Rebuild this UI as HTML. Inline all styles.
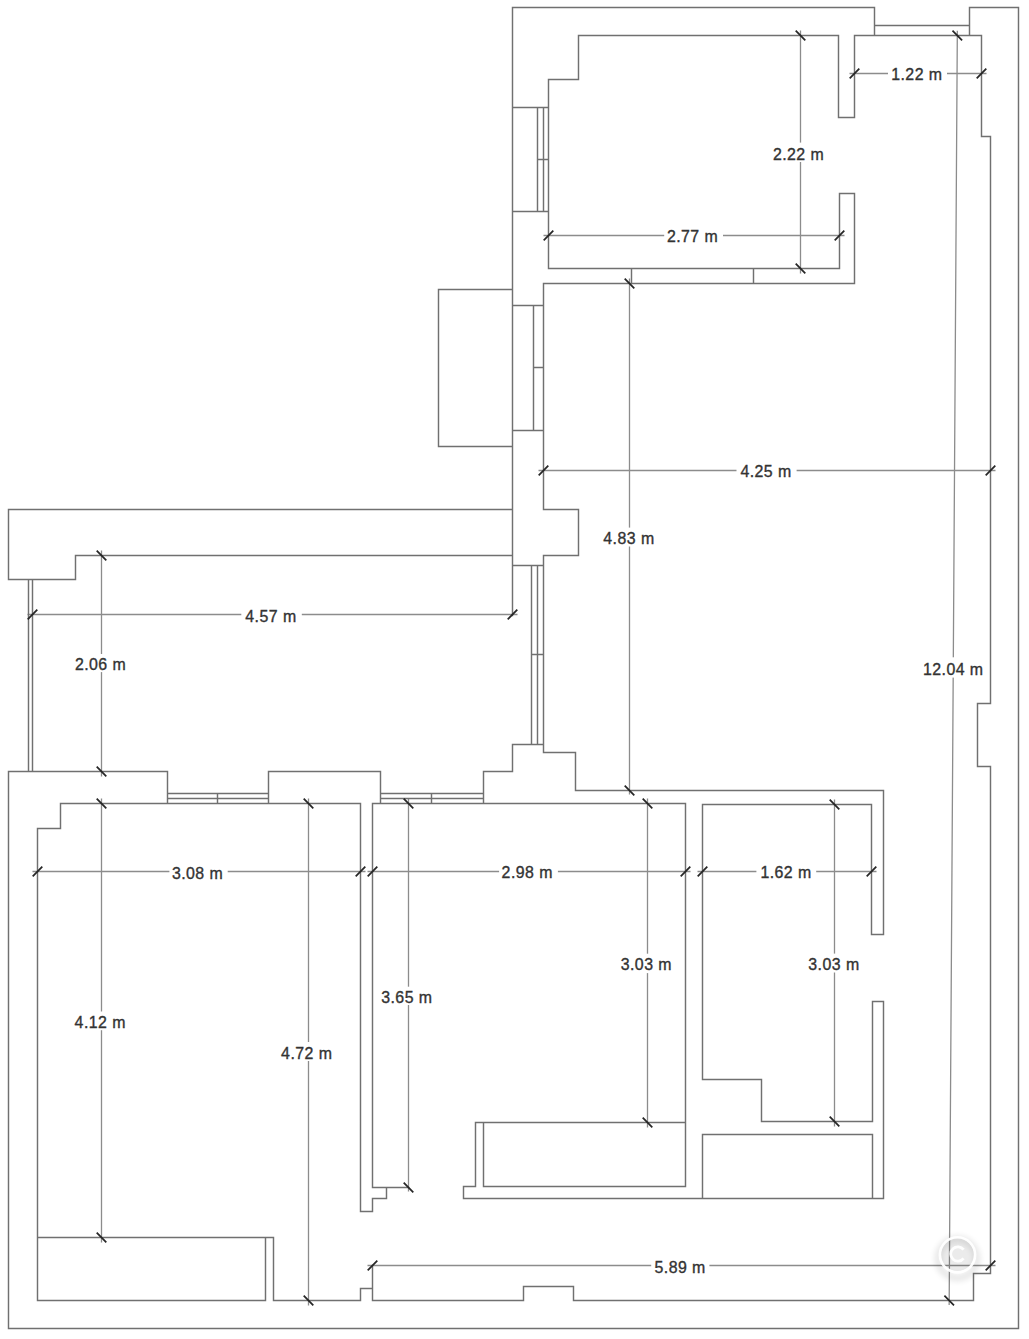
<!DOCTYPE html><html><head><meta charset="utf-8"><style>html,body{margin:0;padding:0;background:#fff;width:1029px;height:1339px;overflow:hidden}svg{display:block}text{font-family:"Liberation Sans",sans-serif;font-size:15.9px;letter-spacing:0.45px;fill:#333333;stroke:#333;stroke-width:0.35px}</style></head><body>
<svg width="1029" height="1339" viewBox="0 0 1029 1339">
<rect width="1029" height="1339" fill="#fff"/>
<path d="M800.5,30.5L800.5,273.5M849.5,73.5L986.5,73.5M543.5,235.5L844.5,235.5M629.5,278.5L629.5,794.5M538.5,470.5L995.5,470.5M957.331,30.8001L949.169,1305M27.5,614.5L517.5,614.5M101.5,550.5L101.5,776.5M32.5,871.5L365.5,871.5M101.5,798.5L101.5,1242.5M308.5,798.5L308.5,1305.5M408.5,798.5L408.5,1191.5M367.5,871.5L690.5,871.5M647.5,798.5L647.5,1127.5M697.5,871.5L876.5,871.5M834.5,799.5L834.5,1126.5M367.5,1265.5L995.5,1265.5" fill="none" stroke="#8c8c8c" stroke-width="1.3"/>
<path d="M512.5,615.5L512.5,7.5L874.5,7.5L874.5,35.5M531.5,654.5L543.5,654.5M874.5,25.5L969.5,25.5M969.5,35.5L969.5,7.5L1018.5,7.5L1018.5,1328.5L8.5,1328.5L8.5,771.5L167.5,771.5L167.5,803.5M548.5,268.5L548.5,79.5L578.5,79.5L578.5,35.5L838.5,35.5L838.5,117.5L854.5,117.5L854.5,35.5L981.5,35.5L981.5,136.5L990.5,136.5L990.5,703.5L977.5,703.5L977.5,766.5L990.5,766.5L990.5,1273.5L973.5,1273.5L973.5,1300.5L573.5,1300.5L573.5,1286.5L523.5,1286.5L523.5,1300.5L372.5,1300.5L372.5,1288.5L360.5,1288.5L360.5,1300.5L273.5,1300.5M265.5,1300.5L37.5,1300.5L37.5,828.5L60.5,828.5L60.5,803.5L360.5,803.5L360.5,1211.5L372.5,1211.5L372.5,1198.5L386.5,1198.5L386.5,1187.5L372.5,1187.5L372.5,803.5L685.5,803.5L685.5,1186.5L483.5,1186.5L483.5,1122.5M386.5,1187.5L408.5,1187.5M37.5,1237.5L273.5,1237.5L273.5,1300.5M372.5,1265.5L372.5,1288.5M265.5,1237.5L265.5,1300.5M463.5,1198.5L463.5,1186.5L475.5,1186.5L475.5,1122.5L685.5,1122.5M463.5,1198.5L883.5,1198.5L883.5,1001.5L872.5,1001.5L872.5,1121.5L761.5,1121.5L761.5,1079.5L702.5,1079.5L702.5,804.5L871.5,804.5L871.5,934.5L883.5,934.5L883.5,790.5L575.5,790.5L575.5,752.5L543.5,752.5L543.5,744.5L512.5,744.5M702.5,1198.5L702.5,1134.5L872.5,1134.5L872.5,1198.5M512.5,107.5L548.5,107.5M512.5,211.5L548.5,211.5M537.5,107.5L537.5,211.5M543.5,107.5L543.5,211.5M537.5,159.5L548.5,159.5M548.5,268.5L839.5,268.5L839.5,193.5L854.5,193.5L854.5,283.5L543.5,283.5L543.5,509.5L578.5,509.5L578.5,555.5L543.5,555.5L543.5,565.5L512.5,565.5M631.5,268.5L631.5,283.5M753.5,268.5L753.5,283.5M512.5,289.5L438.5,289.5L438.5,446.5L512.5,446.5M512.5,305.5L543.5,305.5M512.5,430.5L543.5,430.5M533.5,305.5L533.5,430.5M533.5,367.5L543.5,367.5M512.5,509.5L8.5,509.5L8.5,579.5L75.5,579.5L75.5,555.5L512.5,555.5M28.5,579.5L28.5,771.5M32.5,579.5L32.5,771.5M531.5,565.5L531.5,744.5M537.5,565.5L537.5,744.5M543.5,565.5L543.5,744.5M167.5,793.5L268.5,793.5M167.5,798.5L268.5,798.5M217.5,793.5L217.5,803.5M268.5,803.5L268.5,771.5L380.5,771.5L380.5,803.5M380.5,793.5L483.5,793.5M380.5,798.5L483.5,798.5M431.5,793.5L431.5,803.5M483.5,803.5L483.5,771.5L512.5,771.5L512.5,744.5" fill="none" stroke="#707070" stroke-width="1.45" stroke-linejoin="miter" stroke-linecap="square"/>
<rect x="768.3" y="142.6" width="60" height="19.4" fill="#fff"/>
<rect x="888" y="70.5" width="59" height="6" fill="#fff"/>
<rect x="664.2" y="232.1" width="58.8" height="6" fill="#fff"/>
<rect x="598.7" y="527.6" width="60" height="18.9" fill="#fff"/>
<rect x="736.5" y="467.1" width="60.1" height="6" fill="#fff"/>
<rect x="923" y="657.3" width="60" height="20.3" fill="#fff"/>
<rect x="241.3" y="611.9" width="60.5" height="6" fill="#fff"/>
<rect x="70.3" y="654" width="60" height="18.1" fill="#fff"/>
<rect x="169.4" y="868.3" width="58.3" height="6" fill="#fff"/>
<rect x="70" y="1011.5" width="60" height="18.7" fill="#fff"/>
<rect x="276.5" y="1042" width="60" height="19" fill="#fff"/>
<rect x="376.6" y="986.7" width="60" height="18.3" fill="#fff"/>
<rect x="499.1" y="868.2" width="58.8" height="6" fill="#fff"/>
<rect x="616.1" y="953.7" width="60" height="19.4" fill="#fff"/>
<rect x="756.4" y="868.4" width="59.8" height="6" fill="#fff"/>
<rect x="803.7" y="953.6" width="60" height="18.9" fill="#fff"/>
<rect x="651.2" y="1262.2" width="58.2" height="6" fill="#fff"/>
<path d="M795.7,30.7L805.3,40.3M795.7,263.7L805.3,273.3M849.7,78.3L859.3,68.7M976.7,78.3L986.3,68.7M543.7,240.3L553.3,230.7M834.7,240.3L844.3,230.7M624.7,278.7L634.3,288.3M624.7,785.7L634.3,795.3M538.7,475.3L548.3,465.7M985.7,475.3L995.3,465.7M952.5,30.7L962.1,40.3M944.4,1295.7L954,1305.3M27.7,619.3L37.3,609.7M507.7,619.3L517.3,609.7M96.7,550.7L106.3,560.3M96.7,766.7L106.3,776.3M32.7,876.3L42.3,866.7M355.7,876.3L365.3,866.7M96.7,798.7L106.3,808.3M96.7,1232.7L106.3,1242.3M303.7,798.7L313.3,808.3M303.7,1295.7L313.3,1305.3M403.7,798.7L413.3,808.3M403.7,1182.7L413.3,1192.3M367.7,876.3L377.3,866.7M680.7,876.3L690.3,866.7M642.7,798.7L652.3,808.3M642.7,1117.7L652.3,1127.3M697.7,876.3L707.3,866.7M866.7,876.3L876.3,866.7M829.7,799.7L839.3,809.3M829.7,1116.7L839.3,1126.3M367.7,1270.3L377.3,1260.7M985.7,1270.3L995.3,1260.7" fill="none" stroke="#262626" stroke-width="1.75"/>
<text x="798.55" y="159.8" text-anchor="middle">2.22 m</text>
<text x="916.85" y="80.4" text-anchor="middle">1.22 m</text>
<text x="692.55" y="242" text-anchor="middle">2.77 m</text>
<text x="628.95" y="543.7" text-anchor="middle">4.83 m</text>
<text x="766.05" y="477.3" text-anchor="middle">4.25 m</text>
<text x="953.25" y="674.8" text-anchor="middle">12.04 m</text>
<text x="270.95" y="621.9" text-anchor="middle">4.57 m</text>
<text x="100.55" y="670.2" text-anchor="middle">2.06 m</text>
<text x="197.55" y="878.5" text-anchor="middle">3.08 m</text>
<text x="100.25" y="1027.6" text-anchor="middle">4.12 m</text>
<text x="306.75" y="1059.2" text-anchor="middle">4.72 m</text>
<text x="406.85" y="1002.8" text-anchor="middle">3.65 m</text>
<text x="527.25" y="878.4" text-anchor="middle">2.98 m</text>
<text x="646.35" y="970.3" text-anchor="middle">3.03 m</text>
<text x="786.05" y="878.4" text-anchor="middle">1.62 m</text>
<text x="833.95" y="970.1" text-anchor="middle">3.03 m</text>
<text x="680.15" y="1272.8" text-anchor="middle">5.89 m</text>
<defs><filter id="bl" x="-50%" y="-50%" width="200%" height="200%"><feGaussianBlur stdDeviation="3.2"/></filter></defs>
<g><circle cx="957.5" cy="1258.5" r="19.5" fill="none" stroke="#000" stroke-width="5" opacity="0.13" filter="url(#bl)"/><circle cx="957.5" cy="1254.8" r="16.5" fill="#000" opacity="0.08"/><circle cx="957.5" cy="1254.8" r="17.6" fill="none" stroke="#fff" stroke-width="2.6" opacity="0.95"/><path d="M963.6,1249.6 A7.2,7.2 0 1 0 963.6,1258.4" fill="none" stroke="#fff" stroke-width="2.8" opacity="0.95"/></g>
</svg></body></html>
